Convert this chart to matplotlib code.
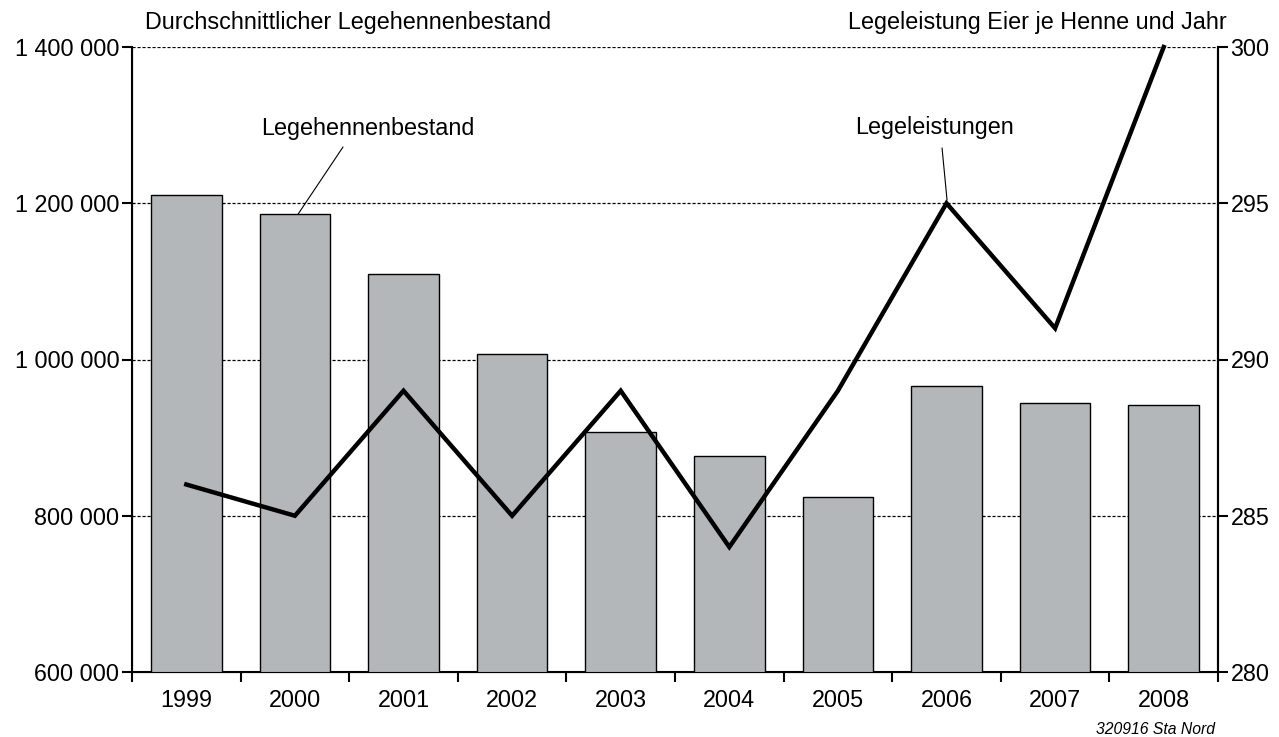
import matplotlib
matplotlib.use("Agg")
import matplotlib.pyplot as plt
import numpy as np

years = ["1999", "2000", "2001", "2002", "2003", "2004", "2005", "2006", "2007", "2008"]
bestand = [1210000, 1186000, 1110000, 1007000, 907000, 877000, 824000, 966000, 944000, 942000]
leistung = [286, 285, 289, 285, 289, 284, 289, 295, 291, 300]
left_ticks = [600000, 800000, 1000000, 1200000, 1400000]
left_labels = ["600 000", "800 000", "1 000 000", "1 200 000", "1 400 000"]
right_ticks = [280, 285, 290, 295, 300]

plt.rcParams['font.family'] = ['Liberation Sans', 'DejaVu Sans']
FS = 16.8

fig = plt.figure(figsize=(12.79, 7.37), dpi=100)
ax = fig.add_axes([132/1279, 1-672/737, (1218-132)/1279, (672-47)/737])
x = np.arange(len(years))
ax.bar(x, bestand, width=0.65, color="#b4b7ba", edgecolor="black", linewidth=1.0, zorder=3)
ax.set_xlim(-0.5, len(years)-0.5)
ax.set_ylim(600000, 1400000)
ax.set_yticks(left_ticks)
ax.set_yticklabels(left_labels)
for t in left_ticks:
    ax.axhline(t, color="black", linestyle=(0, (2.5, 1.5)), linewidth=0.9, zorder=1)
ax.set_xticks(x)
ax.set_xticklabels(years)
ax.set_xticks(np.arange(-0.5, len(years), 1), minor=True)
ax.tick_params(axis="x", which="major", length=0, pad=12.5, labelsize=FS)
ax.tick_params(axis="x", which="minor", length=7.5, width=1.5, direction="out")
ax.tick_params(axis="y", length=7, width=1.5, direction="out", labelsize=FS, pad=2)
ax.spines["top"].set_visible(False)
for s in ["left", "right", "bottom"]:
    ax.spines[s].set_linewidth(1.5)

ax2 = ax.twinx()
ax2.plot(x, leistung, color="black", linewidth=3.2, zorder=5, clip_on=False, solid_joinstyle="miter")
ax2.set_ylim(280, 300)
ax2.set_yticks(right_ticks)
ax2.tick_params(axis="y", length=7, width=1.5, direction="out", labelsize=FS, pad=2)
ax2.spines["top"].set_visible(False)
ax2.spines["right"].set_linewidth(1.5)

fig.text(145/1279, 1-22/737, "Durchschnittlicher Legehennenbestand", fontsize=FS, ha="left", va="center")
fig.text(1227/1279, 1-22/737, "Legeleistung Eier je Henne und Jahr", fontsize=FS, ha="right", va="center")
fig.text(1215/1279, 1-730/737, "320916 Sta Nord", fontsize=11.3, style="italic", ha="right", va="center")

# labels and leader lines
ax.text(1.673, 1296000, "Legehennenbestand", fontsize=FS, ha="center", va="center")
ax.annotate("", xy=(1.029, 1186000), xytext=(1.443, 1272000),
            arrowprops=dict(arrowstyle="-", color="black", linewidth=0.8, shrinkA=0, shrinkB=0))
ax2.text(6.894, 297.41, "Legeleistungen", fontsize=FS, ha="center", va="center")
ax2.annotate("", xy=(7.005, 295.1), xytext=(6.959, 296.77),
             arrowprops=dict(arrowstyle="-", color="black", linewidth=0.8, shrinkA=0, shrinkB=0))

fig.savefig("out.png", dpi=100)
